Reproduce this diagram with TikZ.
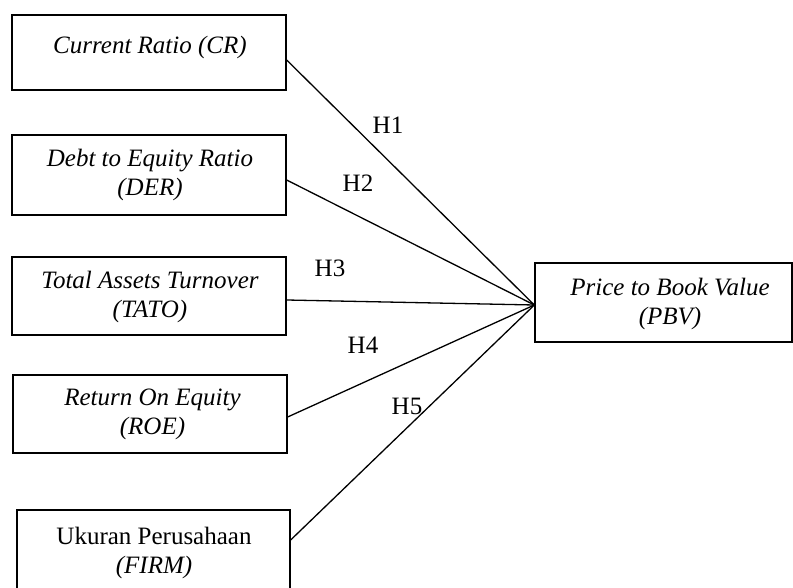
\documentclass[tikz,border=0pt]{standalone}
\usepackage{fontspec}
\setmainfont{Liberation Serif}
\begin{document}
\begin{tikzpicture}[x=1pt,y=-1pt,
  box/.style={draw, line width=1.3pt, inner sep=0pt},
  txt/.style={align=center, inner sep=0pt, font=\fontsize{25}{29}\selectfont},
  hyp/.style={inner sep=0pt, font=\fontsize{25}{29}\selectfont},
  link/.style={line width=1.3pt}]
\useasboundingbox (0,0) rectangle (793,588);
\clip (0,0) rectangle (793,588);
% boxes
\node[box, minimum width=274pt, minimum height=75pt] (cr) at (149,52.5) {};
\node[box, minimum width=274pt, minimum height=80pt] (der) at (149,175) {};
\node[box, minimum width=274pt, minimum height=78pt] (tato) at (149,296) {};
\node[box, minimum width=274pt, minimum height=78pt] (roe) at (150,414) {};
\node[box, minimum width=273pt, minimum height=82pt] (firm) at (153.5,551) {};
\node[box, minimum width=257pt, minimum height=79pt] (pbv) at (663.5,302.5) {};
% texts
\node[txt] (crt) at (150,47) {\itshape Current Ratio (CR)};
\node[txt] (dert) at (150,175) {\itshape Debt to Equity Ratio\\\itshape (DER)};
\node[txt] (tatot) at (150,296.5) {\itshape Total Assets Turnover\\\itshape (TATO)};
\node[txt] (roet) at (152.5,414.5) {\itshape Return On Equity\\\itshape (ROE)};
\node[txt] (firmt) at (154,552.5) {Ukuran Perusahaan\\\itshape (FIRM)};
\node[txt] (pbvt) at (670,304) {\itshape Price to Book Value\\\itshape (PBV)};
% connectors
\coordinate (hub) at ([yshift=-2.5pt]pbv.west);
\draw[link] ([yshift=-7.5pt]cr.east) -- (hub);
\draw[link] ([yshift=-5pt]der.east) -- (hub);
\draw[link] ([yshift=-4pt]tato.east) -- (hub);
\draw[link] ([yshift=-3pt]roe.east) -- (hub);
\draw[link] ([yshift=11pt]firm.east) -- (hub);
% labels
\node[hyp] (h1) at (388,125) {H1};
\node[hyp] (h2) at (358,183) {H2};
\node[hyp] (h3) at (330,268) {H3};
\node[hyp] (h4) at (363,345) {H4};
\node[hyp] (h5) at (407,406) {H5};
\end{tikzpicture}
\end{document}
